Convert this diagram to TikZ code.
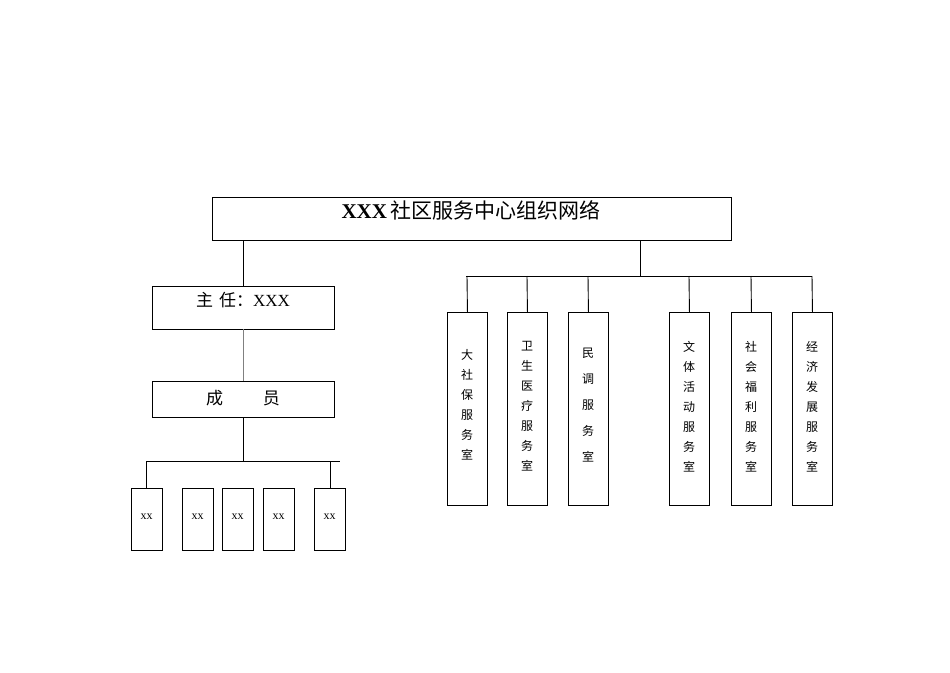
\documentclass[tikz,border=0pt]{standalone}
\usepackage{fontspec}
\setmainfont{Liberation Serif}
\newfontfamily\cjk{Noto Sans CJK SC}
\begin{document}
\begin{tikzpicture}[x=1pt,y=-1pt,
  bx/.style={draw, line width=0.9pt, inner sep=0pt, anchor=north west},
  ln/.style={line width=0.9pt},
  vt/.style={font=\cjk\fontsize{12}{20}\selectfont, align=center, anchor=north}]
\useasboundingbox (0,0) rectangle (950,672);
% title
\node[bx, minimum width=519pt, minimum height=43pt] (t) at (212,197) {};
\node[font=\fontsize{21}{24}\selectfont] (tt) at (471,210) {\textbf{XXX}\,{\cjk 社区服务中心组织网络}};
% left
\node[bx, minimum width=182pt, minimum height=43pt] (zr) at (152,286) {};
\node[font=\fontsize{17}{20}\selectfont] (zrt) at (243,300) {{\cjk 主\hspace{6pt}任：}XXX};
\node[bx, minimum width=182pt, minimum height=36pt] (cy) at (152,381) {};
\node[font=\cjk\fontsize{17}{20}\selectfont] (cyt) at (243,398) {成\hspace{40pt}员};
\draw[ln] (243,240) coordinate (a1) -- (243,286) coordinate (a2);
\draw[ln, gray] (243,329) -- (243,381);
\draw[ln] (243,417) -- (243,461);
\draw[ln] (146,461) coordinate (l1) -- (340,461) coordinate (l2);
\foreach \x/\n in {131/x1,182/x2,222/x3,263/x4,314/x5}{
  \node[bx, minimum width=31pt, minimum height=62pt] (\n) at (\x,488) {};
  \node[font=\fontsize{12}{14}\selectfont] at (\x+15.5,517) {xx};
}
\draw[ln] (146,461) -- (146,488);
\draw[ln] (330,461) -- (330,488);
% right
\draw[ln] (640,240) -- (640,276);
\draw[ln] (466,276) -- (812,276);
\foreach \x/\n/\txt/\ty in {
  447/r1/{大\\社\\保\\服\\务\\室}/346,
  507/r2/{卫\\生\\医\\疗\\服\\务\\室}/338,
  568/r3/{民\\[6pt]调\\[6pt]服\\[6pt]务\\[6pt]室}/345,
  669/r4/{文\\体\\活\\动\\服\\务\\室}/338,
  731/r5/{社\\会\\福\\利\\服\\务\\室}/338,
  792/r6/{经\\济\\发\\展\\服\\务\\室}/338}{
  \node[bx, minimum width=40pt, minimum height=193pt] (\n) at (\x,312) {};
  \draw[ln] (\x+20,276) -- (\n.north);
  \node[vt] at (\x+20,\ty) {\txt};
}
\end{tikzpicture}
\end{document}
